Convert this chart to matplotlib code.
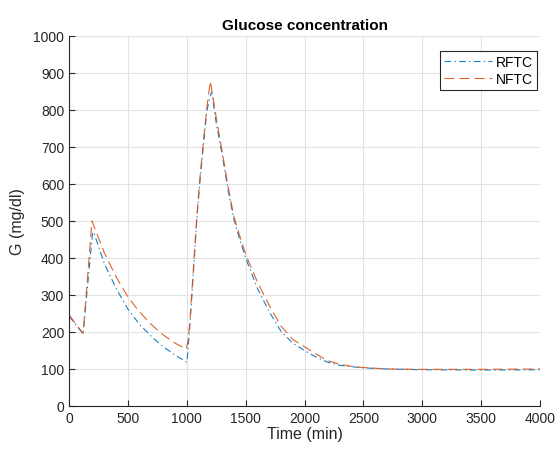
import matplotlib
matplotlib.use('Agg')
import matplotlib.pyplot as plt

plt.rcParams['font.family'] = ['Liberation Sans', 'DejaVu Sans']

# glucose response, read at selected times (min -> mg/dl)
t_rftc = [0, 120, 200, 210, 300, 400, 500, 600, 700, 800, 900, 1000,
          1010, 1025, 1050, 1085, 1110, 1140, 1170, 1195, 1212,
          1250, 1300, 1350, 1400, 1450, 1500, 1600, 1700, 1800, 1900,
          2000, 2100, 2200, 2300, 2400, 2500, 2700, 3000, 3500, 4000]
g_rftc = [243, 195, 468, 470, 385, 318, 262, 220, 188, 160, 138, 118,
          150, 210, 330, 500, 600, 700, 795, 835, 848,
          765, 680, 585, 505, 450, 400, 318, 255, 202, 170,
          150, 132, 118, 110, 106, 103, 100, 98, 97, 98]

t_nftc = [0, 120, 195, 300, 400, 500, 600, 700, 800, 900, 995,
          1010, 1025, 1050, 1085, 1110, 1140, 1170, 1200,
          1250, 1300, 1350, 1400, 1450, 1500, 1600, 1700, 1800, 1900,
          2000, 2100, 2200, 2300, 2400, 2500, 2700, 3000, 3500, 4000]
g_nftc = [246, 196, 500, 414, 349, 295, 254, 220, 192, 170, 154,
          175, 220, 340, 510, 610, 710, 805, 878,
          780, 690, 595, 512, 460, 410, 335, 272, 216, 180,
          160, 140, 122, 113, 107, 104, 100, 99, 99, 100]

fig = plt.figure(figsize=(5.55, 4.52), dpi=100)
ax = fig.add_axes([0.1243, 0.0996, 0.8487, 0.8186])

ax.plot(t_rftc, g_rftc, linestyle=(0, (6, 3, 1.2, 3)), color='#0072BD',
        linewidth=0.8, alpha=0.9, label='RFTC')
ax.plot(t_nftc, g_nftc, linestyle=(0, (9, 4.5)), color='#D95319',
        linewidth=0.8, alpha=0.9, label='NFTC')

ax.set_xlim(0, 4000)
ax.set_ylim(0, 1000)
ax.set_xticks(range(0, 4001, 500))
ax.set_yticks(range(0, 1001, 100))
ax.grid(True, color='#e3e3e3', linewidth=0.8)
ax.set_axisbelow(True)

for side in ['top', 'right']:
    ax.spines[side].set_visible(False)
for side in ['left', 'bottom']:
    ax.spines[side].set_color('#262626')
    ax.spines[side].set_linewidth(0.8)
ax.tick_params(direction='in', length=4, width=0.8, colors='#262626',
               labelsize=10, labelcolor='#262626')

ax.set_title('Glucose concentration', fontsize=11, fontweight='bold', pad=5)
ax.set_xlabel('Time (min)', fontsize=11.5, color='#262626', labelpad=1)
ax.set_ylabel('G (mg/dl)', fontsize=11.5, color='#262626', labelpad=6)

leg = ax.legend(loc='upper right', bbox_to_anchor=(0.9936, 0.960), borderaxespad=0,
                fontsize=10, handlelength=3.4, handletextpad=0.3,
                fancybox=False, framealpha=1, borderpad=0.3, labelspacing=0.2)
leg.get_frame().set_edgecolor('#262626')
leg.get_frame().set_linewidth(0.8)

fig.savefig('out.png', dpi=100)
